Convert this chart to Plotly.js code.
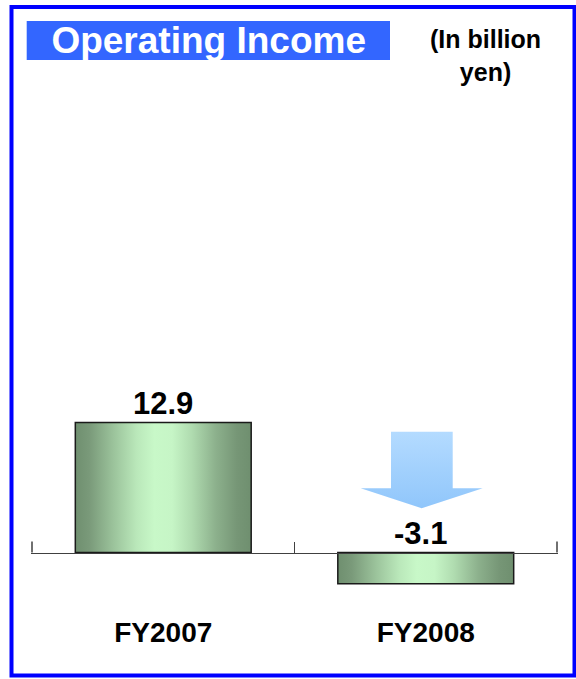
<!DOCTYPE html>
<html>
<head>
<meta charset="utf-8">
<script src="https://cdn.plot.ly/plotly-3.0.1.min.js"></script>
<style>
  html, body { margin: 0; padding: 0; background: #ffffff; }
  #chart { width: 576px; height: 679px; }
</style>
</head>
<body>
<div id="chart"></div>
<script>
// ---- data ----
var categories = ["FY2007", "FY2008"];
var operatingIncome = [12.9, -3.1];
var valueLabels = ["12.9", "-3.1"];
var chartTitle = "Operating Income";
var unitLines = ["(In billion", "yen)"];

// ---- layout geometry (pixels) ----
var W = 576, H = 679;
var M = { l: 31, r: 18, t: 99, b: 76 };
var plotW = W - M.l - M.r, plotH = H - M.t - M.b;
function px2x(px) { return (px - M.l) / plotW; }
function px2y(py) { return (H - M.b - py) / plotH; }

var FONT = "Liberation Sans, Arial, Helvetica, sans-serif";
var yRange = [-5, 45];
var zeroPos = (0 - yRange[0]) / (yRange[1] - yRange[0]);
var pxPerCat = 262.5;
var halfSpan = plotW / pxPerCat / 2;
var xRange = [0.5 - halfSpan, 0.5 + halfSpan];
var AXIS_COLOR = "#404040";

var trace = {
  type: "bar",
  x: categories,
  y: operatingIncome,
  width: 0.67,
  marker: { color: "#9fcf9f", line: { color: "#1a1a1a", width: 1.5 } },
  hoverinfo: "skip"
};

var annotations = categories.map(function (c, i) {
  return {
    x: c, y: Math.max(operatingIncome[i], 0),
    xref: "x", yref: "y",
    text: valueLabels[i],
    showarrow: false,
    xanchor: "center", yanchor: "bottom",
    xshift: operatingIncome[i] < 0 ? -5 : 0,
    yshift: 0,
    font: { family: FONT, size: 31, color: "#000000", weight: "bold" }
  };
});
annotations.push({
  xref: "paper", yref: "paper", x: px2x(485), y: px2y(55),
  text: "<b>" + unitLines.join("<br>") + "</b>", showarrow: false,
  xanchor: "center", yanchor: "middle",
  font: { family: FONT, size: 25, color: "#000000" }
});

var arrowPts = [[391, 431.7], [452.7, 431.7], [452.7, 488.3], [482.7, 488.3],
                [421.7, 508.3], [360.7, 488.3], [391, 488.3]];
var arrowPath = "M" + arrowPts.map(function (p) {
  return px2x(p[0]).toFixed(5) + "," + px2y(p[1]).toFixed(5);
}).join(" L") + " Z";

var shapes = [
  { // outer blue frame
    type: "rect", xref: "paper", yref: "paper",
    x0: px2x(11.5), x1: px2x(574.5), y0: px2y(7), y1: px2y(675.5),
    line: { color: "#0000ff", width: 4 }, fillcolor: "rgba(0,0,0,0)", layer: "above"
  },
  { // title background box
    type: "rect", xref: "paper", yref: "paper",
    x0: px2x(26.7), x1: px2x(390), y0: px2y(21), y1: px2y(60),
    line: { width: 0 }, fillcolor: "#3366ff", layer: "below"
  },
  { // down arrow
    type: "path", xref: "paper", yref: "paper", path: arrowPath,
    line: { width: 0 }, fillcolor: "#a4d0ff", layer: "above"
  }
];
// outer category-boundary ticks (Plotly omits the ones at the axis ends)
[-0.5, categories.length - 0.5].forEach(function (b) {
  shapes.push({
    type: "line", xref: "x", yref: "y", ysizemode: "pixel", yanchor: 0,
    x0: b, x1: b, y0: 0, y1: 11,
    line: { color: AXIS_COLOR, width: 1.5 }, layer: "above"
  });
});

var layout = {
  width: W, height: H,
  margin: M,
  paper_bgcolor: "#ffffff",
  plot_bgcolor: "#ffffff",
  showlegend: false,
  title: {
    text: "<b>" + chartTitle + "</b>",
    font: { family: FONT, size: 37, color: "#ffffff" },
    xref: "container", x: 208.7 / W, xanchor: "center",
    yref: "container", y: 1 - 40.5 / H, yanchor: "middle"
  },
  xaxis: {
    type: "category",
    range: xRange,
    anchor: "free", position: zeroPos,
    showline: true, linecolor: AXIS_COLOR, linewidth: 1.5,
    ticks: "inside", tickson: "boundaries", ticklen: 11, tickwidth: 1.5, tickcolor: AXIS_COLOR,
    showgrid: false, zeroline: false,
    ticklabelstandoff: 54,
    tickfont: { family: FONT, size: 28, color: "#000000", weight: "bold" },
    fixedrange: true
  },
  yaxis: {
    range: yRange, visible: false, showgrid: false, zeroline: false, fixedrange: true
  },
  annotations: annotations,
  shapes: shapes,
  bargap: 0
};

var gd = document.getElementById("chart");
Plotly.newPlot(gd, [trace], layout, { staticPlot: true, displayModeBar: false }).then(function () {
  var ns = "http://www.w3.org/2000/svg";
  var svg = gd.querySelector("svg.main-svg");
  var defs = svg.querySelector("defs") || svg.insertBefore(document.createElementNS(ns, "defs"), svg.firstChild);
  function addGrad(id, x2, y2, stops) {
    var g = document.createElementNS(ns, "linearGradient");
    g.setAttribute("id", id);
    g.setAttribute("x1", "0"); g.setAttribute("y1", "0");
    g.setAttribute("x2", x2); g.setAttribute("y2", y2);
    stops.forEach(function (s) {
      var st = document.createElementNS(ns, "stop");
      st.setAttribute("offset", s[0]);
      st.setAttribute("stop-color", s[1]);
      g.appendChild(st);
    });
    defs.appendChild(g);
  }
  addGrad("barGrad", "1", "0", [
    ["0", "#6f8f6f"], ["0.08", "#7a9a7a"], ["0.22", "#9cc49c"], ["0.35", "#bae8ba"],
    ["0.45", "#c8f8c8"], ["0.55", "#c6f5c6"], ["0.66", "#b0dcb0"], ["0.8", "#8cb08c"],
    ["0.92", "#769676"], ["1", "#6f8f6f"]
  ]);
  addGrad("arrowGrad", "0", "1", [["0", "#b4dbff"], ["1", "#90c6fb"]]);
  gd.querySelectorAll(".barlayer .point path").forEach(function (p) {
    p.style.fill = "url(#barGrad)";
  });
  gd.querySelectorAll(".shapelayer path").forEach(function (p) {
    var f = (p.style.fill || "").replace(/\s/g, "");
    if (f === "rgb(164,208,255)") p.style.fill = "url(#arrowGrad)";
  });
});
</script>
</body>
</html>
